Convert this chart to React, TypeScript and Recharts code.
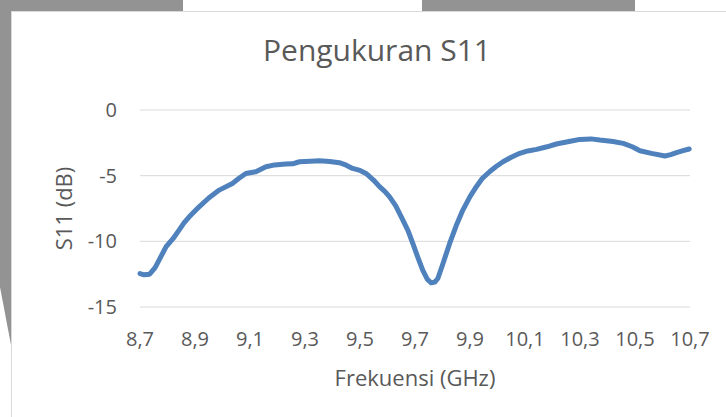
import React from "react";
import {
	LineChart,
	Line,
	XAxis,
	YAxis,
	CartesianGrid,
} from "recharts";

// frekuensi (GHz) dan S11 (dB)
const freq = [
	8.7, 8.715, 8.735, 8.755, 8.775, 8.795, 8.82, 8.842, 8.86, 8.879, 8.915, 8.95,
	8.988, 9.036, 9.06, 9.085, 9.121, 9.158, 9.19, 9.23, 9.255, 9.28, 9.32, 9.352,
	9.39, 9.425, 9.45, 9.473, 9.5, 9.522, 9.55, 9.571, 9.59, 9.607, 9.63, 9.656,
	9.675, 9.692, 9.71, 9.728, 9.745, 9.759, 9.772, 9.783, 9.8, 9.826, 9.85, 9.874,
	9.9, 9.923, 9.945, 9.971, 9.995, 10.02, 10.05, 10.081, 10.11, 10.142, 10.18,
	10.214, 10.26, 10.3, 10.34, 10.372, 10.42, 10.457, 10.49, 10.518, 10.56, 10.609,
	10.63, 10.651, 10.675, 10.697,
];
const s11 = [
	-12.45, -12.55, -12.5, -12.0, -11.2, -10.4, -9.8, -9.15, -8.6, -8.13, -7.37, -6.7,
	-6.1, -5.59, -5.2, -4.83, -4.7, -4.32, -4.18, -4.12, -4.1, -3.94, -3.9, -3.86,
	-3.92, -4.01, -4.2, -4.45, -4.6, -4.83, -5.35, -5.84, -6.2, -6.6, -7.3, -8.38,
	-9.2, -10.16, -11.2, -12.2, -12.9, -13.16, -13.1, -12.83, -11.8, -10.16, -8.8, -7.62,
	-6.6, -5.84, -5.2, -4.7, -4.3, -3.94, -3.6, -3.3, -3.12, -3.0, -2.8,
	-2.59, -2.4, -2.24, -2.2, -2.29, -2.4, -2.54, -2.8, -3.1, -3.3, -3.5,
	-3.4, -3.25, -3.1, -2.97,
];
const xTicks = [8.7, 8.9, 9.1, 9.3, 9.5, 9.7, 9.9, 10.1, 10.3, 10.5, 10.7];
const yTicks = [0, -5, -10, -15];

const data = freq.map((f, i) => ({ f, s11: s11[i] }));

const FONT = "'Open Sans', sans-serif";
const TEXT = "#595959";

export default function App() {
	return (
		<div
			style={{
				position: "fixed",
				left: 0,
				top: 0,
				width: 726,
				height: 417,
				background: "#fff",
				overflow: "hidden",
				fontFamily: FONT,
			}}
		>
			{/* latar abu-abu dari tangkapan layar */}
			<svg width={726} height={417} style={{ position: "absolute", left: 0, top: 0 }}>
				<rect x={0} y={0} width={183} height={11} fill="#939393" />
				<rect x={422} y={0} width={213} height={11} fill="#939393" />
				<polygon points="0,0 11,0 11,345 0,287" fill="#939393" />
				<line x1={11.5} y1={11} x2={11.5} y2={417} stroke="#d9d9d9" />
				<line x1={11} y1={11.5} x2={726} y2={11.5} stroke="#d9d9d9" />
				<text
					x={377}
					y={61}
					textAnchor="middle"
					fontSize={30}
					fill={TEXT}
					fontFamily={FONT}
				>
					Pengukuran S11
				</text>
			</svg>
			<div style={{ position: "absolute", left: 0, top: 0 }}>
				<LineChart
					width={726}
					height={417}
					data={data}
					margin={{ top: 110, right: 36, bottom: 0, left: 0 }}
				>
					<CartesianGrid vertical={false} stroke="#d9d9d9" />
					<XAxis
						dataKey="f"
						type="number"
						domain={[8.7, 10.7]}
						ticks={xTicks}
						height={110}
						axisLine={false}
						tickLine={false}
						tickSize={0}
						tickMargin={25}
						interval={0}
						tick={{ fill: TEXT, fontSize: 20, fontFamily: FONT }}
						tickFormatter={(v: number) => v.toFixed(1).replace(".", ",")}
						label={{
							content: (props: any) => {
								const vb = props.viewBox;
								return (
									<text
										x={vb.x + vb.width / 2}
										y={386}
										textAnchor="middle"
										fontSize={22}
										fill={TEXT}
										fontFamily={FONT}
									>
										Frekuensi (GHz)
									</text>
								);
							},
						}}
					/>
					<YAxis
						type="number"
						domain={[-15, 0]}
						ticks={yTicks}
						width={140}
						axisLine={false}
						tickLine={false}
						tickSize={0}
						tickMargin={23}
						tick={{ fill: TEXT, fontSize: 20, fontFamily: FONT }}
						label={{
							content: (props: any) => {
								const vb = props.viewBox;
								const cy = vb.y + vb.height / 2;
								return (
									<text
										x={64}
										y={cy}
										dy="0.36em"
										transform={`rotate(-90 64 ${cy})`}
										textAnchor="middle"
										fontSize={22}
										fill={TEXT}
										fontFamily={FONT}
									>
										S11 (dB)
									</text>
								);
							},
						}}
					/>
					<Line
						type="linear"
						dataKey="s11"
						stroke="#4F81BD"
						strokeWidth={5}
						strokeLinejoin="round"
						strokeLinecap="round"
						dot={false}
						isAnimationActive={false}
					/>
				</LineChart>
			</div>
		</div>
	);
}
